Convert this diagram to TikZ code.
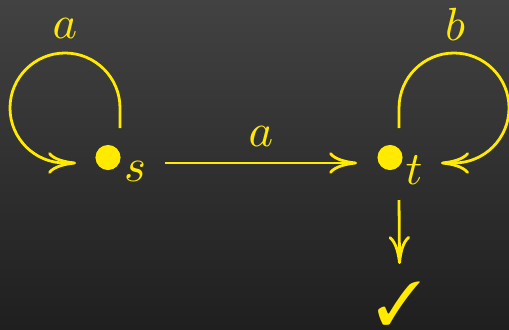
\documentclass[tikz,border=0pt]{standalone}
\usepackage{amssymb}
\usepackage{pifont}
\usetikzlibrary{arrows.meta}
\definecolor{slideyellow}{RGB}{255,234,0}
\definecolor{bgtop}{RGB}{66,66,66}
\definecolor{bgbottom}{RGB}{31,31,31}
\begin{document}
\begin{tikzpicture}[x=0.215pt,y=0.215pt,
  state/.style={circle,fill=slideyellow,inner sep=0pt,minimum size=5.4pt},
  trans/.style={slideyellow,line width=0.6pt,
    -{Computer Modern Rightarrow[length=6pt,width=4.6pt]}},
  lbl/.style={text=slideyellow}]
  \useasboundingbox (0,0) rectangle (509,329);
  % slide background
  \shade[top color=bgtop,bottom color=bgbottom] (0,0) rectangle (509,329);
  % the two states
  \node[state] (s) at (108,171.5) {};
  \node[state] (t) at (390,171.5) {};
  \node[lbl] (sname) at ([shift={(27,-14)}]s.center) {$s$};
  \node[lbl] (tname) at ([shift={(24,-13)}]t.center) {$t$};
  % self loops
  \draw[trans] ([shift={(12,29.5)}]s.center) -- ++(0,20)
    arc[start angle=0,end angle=270,radius=55] -- ++(11,0);
  \node[lbl] (sloop) at (65,301) {$a$};
  \draw[trans] ([shift={(9,29.5)}]t.center) -- ++(0,20)
    arc[start angle=180,end angle=-90,radius=55] -- ++(-13,0);
  \node[lbl] (tloop) at (455,305) {$b$};
  % s to t, then t accepts
  \draw[trans] ([shift={(57,-5.5)}]s.center) -- ([shift={(-33,-5.5)}]t.center)
    node[lbl,midway,above] (st) {$a$};
  \node[lbl,inner sep=0pt,scale=1.3] (ok) at (399.5,26) {\ding{51}};
  \draw[trans] ([shift={(9,-42.5)}]t.center) -- ([shift={(0,16)}]ok.north);
\end{tikzpicture}
\end{document}
